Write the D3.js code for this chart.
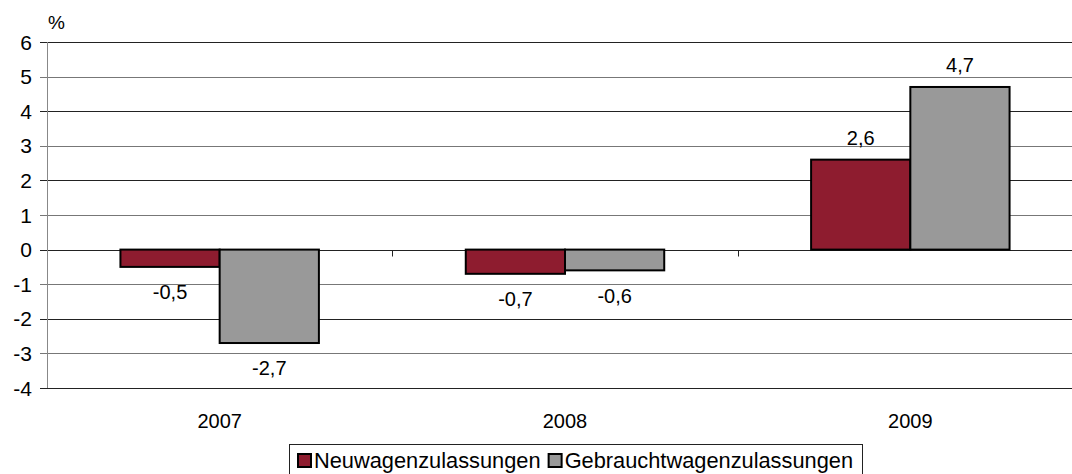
<!DOCTYPE html>
<html>
<head>
<meta charset="utf-8">
<script src="https://cdn.jsdelivr.net/npm/d3@7"></script>
<style>
  body { margin: 0; background: #fff; }
  svg { display: block; font-family: "Liberation Sans", Arial, sans-serif; }
</style>
</head>
<body>
<div id="chart"></div>
<script>
// Chart data
const years = ["2007", "2008", "2009"];
const seriesNames = ["Neuwagenzulassungen", "Gebrauchtwagenzulassungen"];
const neuwagen = [-0.5, -0.7, 2.6];
const gebrauchtwagen = [-2.7, -0.6, 4.7];
const yTicks = [-4, -3, -2, -1, 0, 1, 2, 3, 4, 5, 6];

const colors = ["#8e1c2f", "#999999"];
const width = 1072, height = 474;

const svg = d3.select("#chart").append("svg")
    .attr("width", width)
    .attr("height", height);

// Scales
const x = d3.scaleBand()
    .domain(years)
    .range([47, 1083]);

const xInner = d3.scaleBand()
    .domain(seriesNames)
    .range([0, x.bandwidth()])
    .paddingInner(0)
    .paddingOuter(0.74);

const y = d3.scaleLinear()
    .domain([-4, 6])
    .range([388, 42]);

const crisp = v => Math.round(v) + 0.5;

// Gridlines
svg.append("g")
    .selectAll("line")
    .data(yTicks)
    .enter().append("line")
    .attr("x1", 40)
    .attr("x2", width)
    .attr("y1", d => crisp(y(d)))
    .attr("y2", d => crisp(y(d)))
    .attr("stroke", d => d % 2 === 0 ? "#222" : "#777")
    .attr("stroke-width", 1);

// Y-axis line
svg.append("line")
    .attr("x1", 47.5).attr("x2", 47.5)
    .attr("y1", y(6)).attr("y2", y(-4))
    .attr("stroke", "#888");

// Y tick labels
svg.append("g")
    .selectAll("text")
    .data(yTicks)
    .enter().append("text")
    .attr("x", 32)
    .attr("y", d => y(d))
    .attr("dy", "0.36em")
    .attr("text-anchor", "end")
    .attr("font-size", 21)
    .text(d => d);

svg.append("text")
    .attr("x", 48)
    .attr("y", 29)
    .attr("font-size", 19)
    .text("%");

// Category tick marks on the zero line
svg.append("g")
    .selectAll("line")
    .data(x.domain().slice(1))
    .enter().append("line")
    .attr("x1", d => crisp(x(d)))
    .attr("x2", d => crisp(x(d)))
    .attr("y1", crisp(y(0)))
    .attr("y2", crisp(y(0)) + 6)
    .attr("stroke", "#222");

// Bars
const rows = years.map((yr, i) => ({
    year: yr,
    values: [
        { name: seriesNames[0], value: neuwagen[i], color: colors[0] },
        { name: seriesNames[1], value: gebrauchtwagen[i], color: colors[1] }
    ]
}));

const groups = svg.append("g")
    .selectAll("g")
    .data(rows)
    .enter().append("g")
    .attr("transform", d => `translate(${x(d.year)},0)`);

groups.selectAll("rect")
    .data(d => d.values)
    .enter().append("rect")
    .attr("x", d => xInner(d.name))
    .attr("width", xInner.bandwidth())
    .attr("y", d => y(Math.max(0, d.value)))
    .attr("height", d => Math.abs(y(d.value) - y(0)))
    .attr("fill", d => d.color)
    .attr("stroke", "#000")
    .attr("stroke-width", 2);

// Value labels (German decimal comma)
groups.selectAll("text")
    .data(d => d.values)
    .enter().append("text")
    .attr("x", d => xInner(d.name) + xInner.bandwidth() / 2)
    .attr("y", d => d.value >= 0 ? y(d.value) - 22 : y(d.value) + 25)
    .attr("dy", "0.36em")
    .attr("text-anchor", "middle")
    .attr("font-size", 20)
    .text(d => d.value.toFixed(1).replace(".", ","));

// X category labels
svg.append("g")
    .selectAll("text")
    .data(years)
    .enter().append("text")
    .attr("x", d => x(d) + x.bandwidth() / 2)
    .attr("y", 428)
    .attr("text-anchor", "middle")
    .attr("font-size", 20)
    .text(d => d);

// Legend
const legend = svg.append("g");
legend.append("rect")
    .attr("x", 289.5).attr("y", 444.5)
    .attr("width", 573).attr("height", 40)
    .attr("fill", "#fff")
    .attr("stroke", "#222");

let lx = 298;
seriesNames.forEach((name, i) => {
    legend.append("rect")
        .attr("x", lx).attr("y", 454)
        .attr("width", 13).attr("height", 13)
        .attr("fill", colors[i])
        .attr("stroke", "#000")
        .attr("stroke-width", 2);
    const t = legend.append("text")
        .attr("x", lx + 16)
        .attr("y", 468)
        .attr("font-size", 21.8)
        .text(name);
    lx = lx + 16 + t.node().getComputedTextLength() + 8;
});
</script>
</body>
</html>
